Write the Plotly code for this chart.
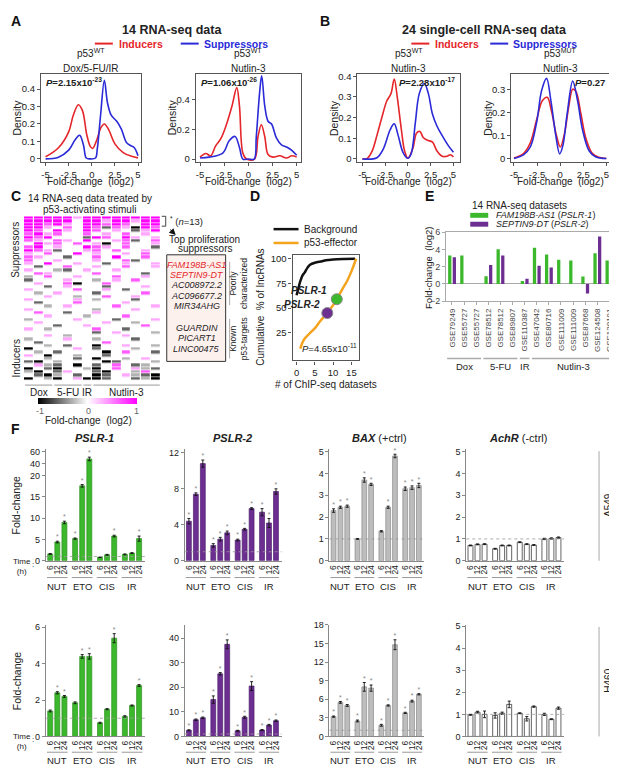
import plotly.graph_objects as go

W, H = 617, 766
FONT = "Arial, Liberation Sans, sans-serif"

RED = "#e5262a"
BLUE = "#2a2ad8"
GREEN = "#3cb82c"
PURPLE = "#6d2e92"
ORANGE = "#f4a31d"
GREY = "#bdbdbd"

# ---- A: 14 RNA-seq data, density of fold-change (log2) ----
a1_ind_x = [-5.0, -3.6, -2.5, -2.0, -1.45, -1.0, -0.55, -0.15, 0.1, 0.55, 1.0, 1.36, 1.8, 2.5, 3.4, 4.3, 5.0]
a1_ind_y = [0.012, 0.064, 0.155, 0.25, 0.31, 0.275, 0.14, 0.07, 0.06, 0.11, 0.18, 0.2, 0.17, 0.086, 0.036, 0.015, 0.006]
a1_sup_x = [-5.0, -3.6, -2.5, -1.8, -1.32, -0.9, -0.6, -0.2, 0.4, 0.6, 0.95, 1.36, 1.7, 2.1, 2.7, 3.2, 3.75, 4.2, 4.6, 5.0]
a1_sup_y = [0.0, 0.01, 0.05, 0.11, 0.135, 0.08, 0.005, 0.0, 0.005, 0.06, 0.25, 0.45, 0.32, 0.25, 0.215, 0.17, 0.094, 0.076, 0.064, 0.018]

a2_ind_x = [-5.0, -4.4, -3.9, -3.4, -2.85, -2.3, -1.7, -1.2, -0.92, -0.57, -0.2, 0.64, 1.0, 1.34, 1.7, 2.04, 2.56, 3.26, 3.96, 4.5, 5.0]
a2_ind_y = [0.013, 0.037, 0.022, 0.087, 0.137, 0.226, 0.355, 0.48, 0.355, 0.04, 0.0, 0.0, 0.15, 0.23, 0.15, 0.03, 0.013, 0.022, 0.007, 0.022, 0.013]
a2_sup_x = [-5.0, -4.05, -2.65, -1.97, -1.38, -0.92, -0.57, 0.0, 0.6, 0.82, 1.17, 1.38, 1.7, 2.04, 2.4, 2.9, 3.43, 3.96, 4.5, 5.0]
a2_sup_y = [0.007, 0.013, 0.04, 0.124, 0.152, 0.078, 0.0, 0.0, 0.0, 0.15, 0.45, 0.56, 0.355, 0.254, 0.235, 0.143, 0.096, 0.081, 0.059, 0.026]

# ---- B: 24 single-cell RNA-seq data ----
b1_ind_x = [-5.0, -4.46, -3.93, -3.4, -2.86, -2.32, -1.86, -1.5, -1.18, -0.71, -0.36, 0.0, 0.54, 0.96, 1.32, 1.68, 2.14, 2.68, 3.2, 3.75, 4.3, 4.64, 5.0]
b1_ind_y = [0.0, 0.003, 0.038, 0.114, 0.2, 0.28, 0.316, 0.387, 0.304, 0.14, 0.038, 0.003, 0.05, 0.126, 0.133, 0.104, 0.09, 0.082, 0.038, 0.013, 0.013, 0.02, 0.01]
b1_sup_x = [-5.0, -3.4, -2.68, -1.96, -1.5, -1.07, -0.54, 0.0, 0.36, 0.82, 1.25, 1.8, 2.25, 2.68, 3.2, 3.75, 4.46, 5.0]
b1_sup_y = [0.0, 0.006, 0.05, 0.14, 0.17, 0.114, 0.032, 0.003, 0.025, 0.177, 0.316, 0.365, 0.316, 0.22, 0.158, 0.114, 0.063, 0.032]

b2_ind_x = [-5.0, -3.94, -3.23, -2.53, -1.93, -1.4, -0.94, -0.4, 0.02, 0.48, 0.94, 1.36, 1.71, 2.24, 2.77, 3.48, 4.19, 5.0]
b2_ind_y = [0.002, 0.023, 0.068, 0.17, 0.25, 0.265, 0.205, 0.1, 0.05, 0.11, 0.227, 0.3, 0.29, 0.195, 0.09, 0.023, 0.006, 0.0]
b2_sup_x = [-5.0, -3.94, -3.23, -2.53, -2.0, -1.47, -1.0, -0.48, -0.05, 0.3, 0.76, 1.36, 1.89, 2.42, 3.13, 3.83, 5.0]
b2_sup_y = [0.0, 0.017, 0.05, 0.16, 0.295, 0.347, 0.25, 0.102, 0.02, 0.057, 0.193, 0.335, 0.25, 0.125, 0.034, 0.008, 0.0]

# ---- C: heatmap of 14 RNA-seq data (rows = lncRNAs) ----
c_levels = {'.': 0.0, 'l': 0.35, 'm': 0.65, 'M': 1.0, 'g': -0.3, 'd': -0.6, 'K': -1.0}
c_rows = [
    "MMMMMlMMMMMMMM", "MMMMM.MMlMMlMM", "MMmMl.MMmMm.MM", "MMl.m.MmdmlKMm",
    "Mm.Ml.Mm.l.dlM", "mMlm..m.l.m.l.", "MmM...dMm.Ml.l", "ml.ml.M..lmd.m",
    ".Mlm.m.lK.m..l", "mM.l..Mml.m..d", "Mmld..lm.m..l.", "l.m..M.l..l.m.",
    "ml..d..m.M..m.", "m..l...l..md..", "l.M..l..d.l..l", ".d..m..l..m..l",
    "l..gd.l..l....", ".ml....m....d.", "g.m..l...m..l.", "d...l..g.l.m..",
    ".l..mK..m.....", "..d.l...d...l.", "l....m..l.d...", ".g.l...d....m.",
    "..l..g..m..l..", "l....l.g...d..", ".d...m....l...", "..g.l....m...l",
    "l......g...l..", ".m..d..l......", "..l...g...m...", "g....l...d...l",
    ".l......l..g..", "...d..l.....m.", "l.g....m..d...", ".......d.l...g",
    "..l.g.....l...", "g...l..g...d..", ".d......m.....", "..g.d..K..l..g",
    "K....l.d...g..", ".g.d....K.m..d", "l.K..g..d.....", "..g..d.K..g.l.",
    "dK.g....Kd...g", ".lgd.K.d.m.dg.", "K.dK..gK.m.lgd", "gK.dl..dK..gm.",
    ".dKg.d.Kd.lgdK", "K.gK.lKKd..dgK",
]
c_groups = ["Dox", "5-FU", "IR", "Nutlin-3"]
c_group_sizes = [3, 3, 1, 7]
c_names_poor = ["FAM198B-AS1", "SEPTIN9-DT", "AC008972.2", "AC096677.2", "MIR34AHG"]
c_names_known = ["GUARDIN", "PICART1", "LINC00475"]

# ---- D: cumulative % of lncRNAs vs number of ChIP-seq datasets ----
d_bg_x = [0, 0.5, 1, 1.6, 2.2, 3, 3.7, 5, 7, 8, 10, 13, 16]
d_bg_y = [63, 70, 77, 83, 86, 91, 94, 96, 97.5, 98.5, 99.3, 99.8, 100]
d_eff_x = [1, 1.5, 2, 3.5, 5.1, 6.5, 8.4, 10, 11, 12.5, 13.9, 15.2, 16.3]
d_eff_y = [9, 14, 18, 24, 30, 37, 45, 53, 59, 69, 78, 89, 100]
d_pslr_names = ["PSLR-1", "PSLR-2"]
d_pslr_x = [11, 8.4]
d_pslr_y = [59, 45]

# ---- E: PSLR-1 / PSLR-2 fold-change in 14 RNA-seq datasets ----
e_datasets = ["GSE79249", "GSE55727", "GSE55727", "GSE78512", "GSE78512", "GSE89807", "GSE110387",
              "GSE47042", "GSE80716", "GSE111009", "GSE111009", "GSE87668", "GSE124508", "GSE128191"]
e_pslr1 = [3.3, 3.3, None, 0.9, 4.0, None, 0.35, 4.2, 3.4, 2.8, 2.7, 0.85, 3.55, 2.7]
e_pslr2 = [3.1, None, None, 2.2, 3.3, None, 0.6, 2.1, 1.9, None, None, -1.1, 5.5, None]
e_groups = ["Dox", "5-FU", "IR", "Nutlin-3"]
e_group_sizes = [3, 3, 1, 7]

# ---- F: qPCR fold-change, A549 (top) and H460 (bottom) ----
f_treat = ["NUT", "ETO", "CIS", "IR"]
f_times = ["6", "12", "24"]
f_a549_pslr1 = [1.6, 4.4, 9.0, 5.2, 17.6, 48.0, 0.8, 1.4, 5.8, 1.5, 1.8, 5.2]
f_a549_pslr1_err = [0.1, 0.2, 0.3, 0.15, 0.3, 3.0, 0.05, 0.1, 0.2, 0.1, 0.1, 0.6]
f_a549_pslr2 = [4.4, 7.4, 10.8, 1.7, 2.4, 3.1, 2.3, 3.5, 5.8, 5.4, 4.2, 7.7]
f_a549_pslr2_err = [0.3, 0.15, 0.4, 0.2, 0.2, 0.2, 0.1, 0.1, 0.1, 0.4, 0.5, 0.3]
f_a549_bax = [2.3, 2.45, 2.5, 1.0, 3.7, 3.5, 1.35, 2.45, 4.8, 3.3, 3.35, 3.45]
f_a549_bax_err = [0.08, 0.05, 0.05, 0.02, 0.1, 0.05, 0.03, 0.05, 0.08, 0.08, 0.08, 0.1]
f_a549_achr = [0.7, 0.75, 0.76, 0.55, 0.7, 0.7, 0.85, 0.76, 0.72, 1.0, 1.02, 1.06]
f_a549_achr_err = [0.02, 0.02, 0.02, 0.02, 0.02, 0.02, 0.02, 0.02, 0.02, 0.03, 0.03, 0.03]
f_h460_pslr1 = [1.4, 2.4, 2.2, 1.85, 4.4, 4.4, 0.75, 1.5, 5.4, 1.1, 1.7, 2.8]
f_h460_pslr1_err = [0.05, 0.06, 0.05, 0.05, 0.1, 0.15, 0.03, 0.03, 0.25, 0.04, 0.03, 0.05]
f_h460_pslr2 = [2.5, 6.8, 7.6, 15.0, 25.5, 37.5, 2.3, 7.8, 20.5, 2.6, 4.6, 6.4]
f_h460_pslr2_err = [0.2, 0.3, 0.3, 1.5, 0.5, 1.8, 0.2, 0.4, 1.8, 0.2, 0.3, 0.3]
f_h460_bax = [3.2, 5.5, 5.0, 2.5, 8.0, 7.8, 1.8, 5.0, 14.8, 3.8, 5.7, 6.8]
f_h460_bax_err = [0.1, 0.15, 0.15, 0.15, 0.7, 0.5, 0.15, 0.1, 0.8, 0.1, 0.15, 0.1]
f_h460_achr = [0.98, 1.1, 1.0, 0.95, 1.05, 1.45, 1.05, 0.8, 1.35, 1.0, 0.78, 1.28]
f_h460_achr_err = [0.02, 0.04, 0.15, 0.12, 0.05, 0.15, 0.02, 0.1, 0.03, 0.05, 0.02, 0.05]
f_sig_a549 = [[0, 1, 1, 1, 1, 1, 0, 0, 1, 0, 0, 1], [1] * 12, [1, 1, 1, 0, 1, 1, 0, 1, 1, 1, 1, 1], [0] * 12]
f_sig_h460 = [[0, 1, 1, 0, 1, 1, 0, 0, 1, 0, 0, 1], [1] * 12, [1] * 12, [0] * 12]


def brk(v):
    # broken y axis of PSLR-1 in A549: linear up to 20, compressed above
    return v if v <= 20 else 20 + (v - 20) * 0.14


fig = go.Figure()
anns = []
shapes = []
layout = dict(width=W, height=H, margin=dict(l=0, r=0, t=0, b=0),
              paper_bgcolor="white", plot_bgcolor="white", showlegend=False,
              font=dict(family=FONT, size=10, color="#222"), barmode="overlay")


def axis_pair(i, xdom, ydom, xkw, ykw):
    s = "" if i == 1 else str(i)
    layout["xaxis" + s] = dict(domain=[xdom[0] / W, xdom[1] / W], anchor="y" + s, fixedrange=True, **xkw)
    layout["yaxis" + s] = dict(domain=[1 - ydom[1] / H, 1 - ydom[0] / H], anchor="x" + s, fixedrange=True, **ykw)
    return "x" + s, "y" + s


def boxed(**kw):
    d = dict(showline=True, mirror=True, linecolor="#555", linewidth=1.2, ticks="outside", ticklen=3,
             tickcolor="#555", showgrid=False, zeroline=False, tickfont=dict(size=9.5, color="#222"))
    d.update(kw)
    return d


def text(x, y, s, size=10, color="#222", xanchor="center", yanchor="middle", angle=0):
    anns.append(dict(x=x / W, y=1 - y / H, xref="paper", yref="paper", text=s, showarrow=False,
                     font=dict(size=size, color=color, family=FONT), xanchor=xanchor, yanchor=yanchor,
                     textangle=angle))


def pline(x0, y0, x1, y1, color="#222", width=1.0, dash=None):
    shapes.append(dict(type="line", xref="paper", yref="paper", x0=x0 / W, x1=x1 / W,
                       y0=1 - y0 / H, y1=1 - y1 / H, line=dict(color=color, width=width, dash=dash)))


# ---------------- panel letters ----------------
for lab, lx, ly in [("A", 7, 8), ("B", 317, 8), ("C", 7, 185), ("D", 246, 185), ("E", 421, 185), ("F", 7, 421)]:
    text(lx, ly, "<b>" + lab + "</b>", size=14, color="#111")

# ---------------- A & B: density plots ----------------
text(163, 17, "<b>14 RNA-seq data</b>", size=12.5)
text(476, 17, "<b>24 single-cell RNA-seq data</b>", size=12.5)
for x0, x1, tx, col, lab in [(86, 104, 108, RED, "Inducers"), (172, 190, 193, BLUE, "Suppressors"),
                             (403, 421, 425, RED, "Inducers"), (482, 500, 503, BLUE, "Suppressors")]:
    pline(x0, 31, x1, 31, col, 2)
    text(tx, 31, "<b>" + lab + "</b>", size=10.5, color=col, xanchor="left")

BOX_T, BOX_B = 62, 151
dens = [
    (1, (32, 132), [-5.5, 5.3], [-0.018, 0.485], [0, 0.1, 0.2, 0.3, 0.4],
     a1_ind_x, a1_ind_y, a1_sup_x, a1_sup_y, "p53<sup>WT</sup>", "Dox/5-FU/IR"),
    (2, (187, 292), [-5.45, 5.4], [-0.02, 0.57], [0, 0.2, 0.4],
     a2_ind_x, a2_ind_y, a2_sup_x, a2_sup_y, "p53<sup>WT</sup>", "Nutlin-3"),
    (3, (349, 452), [-5.54, 5.75], [-0.015, 0.41], [0, 0.1, 0.2, 0.3, 0.4],
     b1_ind_x, b1_ind_y, b1_sup_x, b1_sup_y, "p53<sup>WT</sup>", "Nutlin-3"),
    (4, (503, 602), [-5.3, 5.4], [-0.015, 0.365], [0, 0.1, 0.2, 0.3],
     b2_ind_x, b2_ind_y, b2_sup_x, b2_sup_y, "p53<sup>MUT</sup>", "Nutlin-3"),
]
for i, xd, xr, yr, yt, ix, iy, sx, sy, t1, t2 in dens:
    xa, ya = axis_pair(i, xd, (BOX_T, BOX_B),
                       boxed(range=xr, tickvals=[-5, -2.5, 0, 2.5, 5], ticktext=["-5", "-2.5", "0", "2.5", "5"]),
                       boxed(range=yr, tickvals=yt, ticktext=[("%g" % v) for v in yt]))
    fig.add_trace(go.Scatter(x=ix, y=iy, mode="lines", line=dict(color=RED, width=1.6, shape="spline", smoothing=1.0),
                             xaxis=xa, yaxis=ya))
    fig.add_trace(go.Scatter(x=sx, y=sy, mode="lines", line=dict(color=BLUE, width=1.6, shape="spline", smoothing=1.0),
                             xaxis=xa, yaxis=ya))
    cx = (xd[0] + xd[1]) / 2
    text(cx, 49, t1, size=10, yanchor="bottom")
    text(cx, 49, t2, size=10, yanchor="top")
    text(cx, 171, "Fold-change  (log2)", size=10)
    text(xd[0] - 24, 106, "Density", size=10.5, angle=-90)

text(35, 70, "<b><i>P</i>=2.15x10<sup>-23</sup></b>", size=9.5, xanchor="left")
text(190, 70, "<b><i>P</i>=1.06x10<sup>-26</sup></b>", size=9.5, xanchor="left")
text(449, 70, "<b><i>P</i>=2.28x10<sup>-17</sup></b>", size=9.5, xanchor="right")
text(599, 70, "<b><i>P</i>=0.27</b>", size=9.5, xanchor="right")

# ---------------- C: heatmap ----------------
HM_T, HM_B = 206, 372
c_z = [[c_levels[ch] for ch in row] for row in c_rows]
xa, ya = axis_pair(5, (15, 152), (HM_T, HM_B),
                   dict(range=[-0.5, 13.5], showticklabels=False, showline=False, ticks="", showgrid=False, zeroline=False),
                   dict(range=[len(c_rows) - 0.5, -0.5], showticklabels=False, showline=False, ticks="", showgrid=False, zeroline=False))
fig.add_trace(go.Heatmap(
    z=c_z, x=list(range(14)), y=list(range(len(c_rows))), zmin=-1, zmax=1, xgap=1.2, ygap=0.6,
    colorscale=[[0, "#000000"], [0.5, "#ffffff"], [1, "#ff00ff"]], xaxis=xa, yaxis=ya,
    colorbar=dict(orientation="h", x=79 / W, xanchor="center", y=1 - 390 / H, yanchor="top", ypad=0, xpad=0,
                  len=99 / W, lenmode="fraction", thickness=6, outlinewidth=0, ticks="", showticklabels=False)))
text(81, 188, "14 RNA-seq data treated by", size=10)
text(81, 199, "p53-activating stimuli", size=10)
text(7, 240, "Suppressors", size=10, angle=-90)
text(7, 350, "Inducers", size=10, angle=-90)
for v, tx in [(-1, 31), (0, 80), (1, 128)]:
    text(tx, 403, "%d" % v, size=9, color="#666")
text(80, 413, "Fold-change  (log2)", size=10)
start = 0
for g, n in zip(c_groups, c_group_sizes):
    shapes.append(dict(type="line", xref=xa, yref="paper", x0=start - 0.4, x1=start + n - 1 + 0.4,
                       y0=1 - 377 / H, y1=1 - 377 / H, line=dict(color="#999", width=1)))
    anns.append(dict(x=start + (n - 1) / 2, y=1 - 385 / H, xref=xa, yref="paper", text=g, showarrow=False,
                     font=dict(size=10, color="#222"), yanchor="middle"))
    start += n

# bracket + n=13, arrow, box of top suppressors
pline(153, 206, 157, 206, "#444", 1)
pline(157, 206, 157, 216, "#444", 1)
pline(153, 216, 157, 216, "#444", 1)
text(159, 211, "<sup>*</sup> (<i>n</i>=13)", size=9.5, xanchor="left")
anns.append(dict(x=167 / W, y=1 - 225 / H, xref="paper", yref="paper", ax=-7, ay=-7, showarrow=True,
                 arrowhead=2, arrowsize=1.3, arrowwidth=1, arrowcolor="#111", text=""))
text(196, 230, "Top proliferation", size=10)
text(196, 239, "suppressors", size=10)
shapes.append(dict(type="rect", xref="paper", yref="paper", x0=158 / W, x1=217 / W, y0=1 - 353 / H, y1=1 - 245 / H,
                   fillcolor="#fdf1ee", line=dict(color="#333", width=1)))
for k, nm in enumerate(c_names_poor):
    text(188, 255 + 10.5 * k, "<i>" + nm + "</i>", size=9, color=RED if k < 2 else "#222")
for k, nm in enumerate(c_names_known):
    text(188, 319 + 10.5 * k, "<i>" + nm + "</i>", size=9, color="#222")
pline(221, 252, 221, 296, "#aaa", 1)
pline(221, 310, 221, 350, "#aaa", 1)
text(230, 274, "Poorly<br>characterized", size=8.5, angle=-90)
text(230, 330, "Known<br>p53-targets", size=8.5, angle=-90)

# ---------------- D ----------------
xa, ya = axis_pair(6, (284, 351), (245, 352),
                   boxed(range=[-1.1, 17.2], tickvals=[0, 5, 10, 15]),
                   boxed(range=[-3, 104], tickvals=[25, 50, 75, 100]))
fig.add_trace(go.Scatter(x=d_bg_x, y=d_bg_y, mode="lines", line=dict(color="#111", width=2.5, shape="spline"),
                         xaxis=xa, yaxis=ya))
fig.add_trace(go.Scatter(x=d_eff_x, y=d_eff_y, mode="lines", line=dict(color=ORANGE, width=2.5, shape="spline"),
                         xaxis=xa, yaxis=ya))
fig.add_trace(go.Scatter(x=d_pslr_x, y=d_pslr_y, mode="markers", xaxis=xa, yaxis=ya,
                         marker=dict(size=11, color=[GREEN, PURPLE], line=dict(color="#888", width=1))))
for nm, px_, py_, xs in zip(d_pslr_names, d_pslr_x, d_pslr_y, [-8, -5]):
    anns.append(dict(x=px_, y=py_, xref=xa, yref=ya, text="<b><i>" + nm + "</i></b>", showarrow=False,
                     xanchor="right", yanchor="bottom", xshift=xs, yshift=1, font=dict(size=10, color="#222")))
pline(265, 219, 290, 219, "#111", 2.5)
pline(265, 233, 290, 233, ORANGE, 2.5)
text(293, 219, "Background", size=10, xanchor="left")
text(293, 233, "p53-effector", size=10, xanchor="left")
text(321, 339, "<i>P</i>=4.65x10<sup>-11</sup>", size=9.5)
text(252, 298, "Cumulative  % of lncRNAs", size=10, angle=-90)
text(318, 376, "# of ChIP-seq datasets", size=10)

# ---------------- E ----------------
xa, ya = axis_pair(7, (438, 609), (222, 292),
                   boxed(range=[-0.47, 13.63], tickvals=list(range(14)), ticktext=e_datasets, tickangle=-90,
                         ticklabeloverflow="allow", linecolor="#aaa", tickcolor="#aaa",
                         tickfont=dict(size=8, color="#444")),
                   boxed(range=[-2, 6], tickvals=[-2, 0, 2, 4, 6], linecolor="#aaa", tickcolor="#aaa",
                         zeroline=True, zerolinecolor="#aaa", zerolinewidth=1, tickfont=dict(size=9, color="#444")))
fig.add_trace(go.Bar(x=list(range(14)), y=e_pslr1, width=0.27, offset=-0.32, marker=dict(color=GREEN, line=dict(width=0)),
                     xaxis=xa, yaxis=ya))
fig.add_trace(go.Bar(x=list(range(14)), y=e_pslr2, width=0.27, offset=0.06, marker=dict(color=PURPLE, line=dict(width=0)),
                     xaxis=xa, yaxis=ya))
text(511, 195, "14 RNA-seq datasets", size=10)
shapes.append(dict(type="rect", xref="paper", yref="paper", x0=462 / W, x1=480 / W, y0=1 - 207.5 / H, y1=1 - 202.5 / H,
                   fillcolor=GREEN, line=dict(width=0)))
shapes.append(dict(type="rect", xref="paper", yref="paper", x0=462 / W, x1=480 / W, y0=1 - 216.5 / H, y1=1 - 211.5 / H,
                   fillcolor=PURPLE, line=dict(width=0)))
text(486, 205, "<i>FAM198B-AS1</i> (<i>PSLR-1</i>)", size=9, xanchor="left")
text(486, 214, "<i>SEPTIN9-DT</i> (<i>PSLR-2</i>)", size=9, xanchor="left")
text(420, 258, "Fold-change  (log2)", size=9.5, angle=-90)
start = 0
for g, n in zip(e_groups, e_group_sizes):
    shapes.append(dict(type="line", xref=xa, yref="paper", x0=start - 0.4, x1=start + n - 1 + 0.4,
                       y0=1 - 350 / H, y1=1 - 350 / H, line=dict(color="#aaa", width=1.5)))
    anns.append(dict(x=start + (n - 1) / 2, y=1 - 358 / H, xref=xa, yref="paper", text=g, showarrow=False,
                     font=dict(size=9.5, color="#222"), yanchor="middle"))
    start += n

# ---------------- F ----------------
f_pos = [g * 3.5 + b for g in range(len(f_treat)) for b in range(len(f_times))]
f_xdom = [(37, 136), (176, 273), (321, 416), (458, 556)]
f_colors = [GREEN, PURPLE, GREY, "white"]
f_edges = ["#2f8f22", "#4d1f6b", "#8a8a8a", "#222"]
rows = [
    ((442, 555), [[brk(v) for v in f_a549_pslr1], f_a549_pslr2, f_a549_bax, f_a549_achr],
     [f_a549_pslr1_err, f_a549_pslr2_err, f_a549_bax_err, f_a549_achr_err], f_sig_a549,
     [[0, 26.2], [0, 12.4], [0, 5.11], [0, 5.11]],
     [[brk(v) for v in [0, 5, 10, 15, 20, 40, 60]], [0, 4, 8, 12], [0, 1, 2, 3, 4, 5], [0, 1, 2, 3, 4, 5]],
     [["0", "5", "10", "15", "20", "40", "60"], None, None, None], 572, "A549"),
    ((620, 733), [f_h460_pslr1, f_h460_pslr2, f_h460_bax, f_h460_achr],
     [f_h460_pslr1_err, f_h460_pslr2_err, f_h460_bax_err, f_h460_achr_err], f_sig_h460,
     [[0, 6.13], [0, 45.4], [0, 18.0], [0, 5.05]],
     [[0, 2, 4, 6], [0, 10, 20, 30, 40], [0, 3, 6, 9, 12, 15, 18], [0, 1, 2, 3, 4, 5]],
     [None, None, None, None], 749, "H460"),
]
ax_i = 8
for yd, vals, errs, sigs, yrs, yts, ytt, gline_y, cell in rows:
    for j in range(4):
        ykw = dict(range=yrs[j], tickvals=yts[j], showline=True, linecolor="#888", linewidth=1, ticks="outside",
                   ticklen=3, tickcolor="#888", showgrid=False, zeroline=False, tickfont=dict(size=9, color="#222"))
        if ytt[j] is not None:
            ykw["ticktext"] = ytt[j]
        xa, ya = axis_pair(ax_i, f_xdom[j], yd,
                           dict(range=[-0.6, 13.3], tickvals=f_pos, ticktext=f_times * 4, tickangle=-90, ticks="",
                                showline=True, linecolor="#888", linewidth=1, showgrid=False, zeroline=False,
                                tickfont=dict(size=8.5, color="#222")),
                           ykw)
        e = errs[j] if j > 0 or cell != "A549" else [brk(v + ee) - brk(v) for v, ee in zip(f_a549_pslr1, f_a549_pslr1_err)]
        fig.add_trace(go.Bar(x=f_pos, y=vals[j], width=0.7, xaxis=xa, yaxis=ya,
                             marker=dict(color=f_colors[j], line=dict(color=f_edges[j], width=0.7)),
                             error_y=dict(type="data", array=e, color="#111", thickness=0.9, width=1.5)))
        sx = [p for p, s in zip(f_pos, sigs[j]) if s]
        sy = [v + ee for v, ee, s in zip(vals[j], e, sigs[j]) if s]
        if sx:
            fig.add_trace(go.Scatter(x=sx, y=sy, mode="text", text=["*"] * len(sx), textposition="top center",
                                     textfont=dict(size=7, color="#888"), xaxis=xa, yaxis=ya, cliponaxis=False))
        shapes.append(dict(type="line", xref=xa + " domain", yref=ya, x0=0, x1=1, y0=1, y1=1,
                           line=dict(color="#999", width=0.8, dash="dot")))
        for g, t in enumerate(f_treat):
            shapes.append(dict(type="line", xref=xa, yref="paper", x0=g * 3.5 - 0.45, x1=g * 3.5 + 2.45,
                               y0=1 - gline_y / H, y1=1 - gline_y / H, line=dict(color="#999", width=1)))
            anns.append(dict(x=g * 3.5 + 1, y=1 - (gline_y + 1) / H, xref=xa, yref="paper", text=t, showarrow=False,
                             font=dict(size=9.5, color="#222"), yanchor="top"))
        ax_i += 1
    pline(591, yd[0] + 2, 591, yd[1], "#aaa", 1)
    text(601, (yd[0] + yd[1]) / 2, cell, size=10, angle=-90)
    text(13, gline_y - 11, "Time<br>(h)", size=8)
    text(24, gline_y - 13, ":", size=8)

text(8, 498, "Fold-change", size=10.5, angle=-90)
text(8, 676, "Fold-change", size=10.5, angle=-90)
text(86, 431, "<b><i>PSLR-1</i></b>", size=11)
text(224, 431, "<b><i>PSLR-2</i></b>", size=11)
text(371, 431, "<b><i>BAX</i></b> (+ctrl)", size=11)
text(510, 431, "<b><i>AchR</i></b> (-ctrl)", size=11)

layout["annotations"] = anns
layout["shapes"] = shapes
fig.update_layout(**layout)
fig.write_html("out.html")
